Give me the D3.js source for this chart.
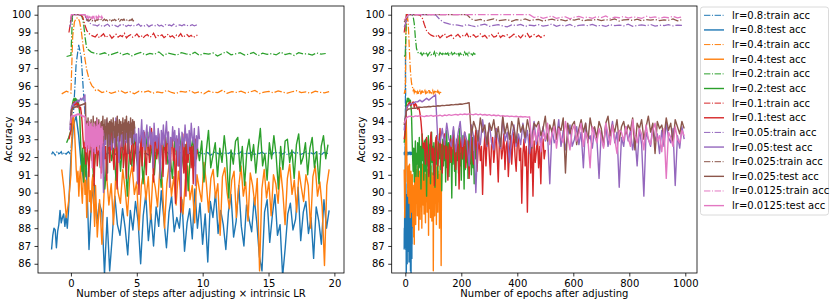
<!DOCTYPE html>
<html>
<head>
<meta charset="utf-8">
<script src="https://cdn.jsdelivr.net/npm/d3@7"></script>
<style>
body{margin:0;background:#fff;}
svg{display:block;font-family:"DejaVu Sans",sans-serif;}
</style>
</head>
<body>
<svg id="chart" width="830" height="303"></svg>
<script>
// learning rates, one train (dash-dot) and one test (solid) curve each
var lrs = ["0.8","0.4","0.2","0.1","0.05","0.025","0.0125"];
var colors = ["#1f77b4","#ff7f0e","#2ca02c","#d62728","#9467bd","#8c564b","#e377c2"];
// every series starts at epoch -4 (before adjusting), one value per step
var trainStep = [0.25, 2, 4, 8, 16, 16, 16];
var testStep = [0.25, 1, 2, 4, 8, 8, 8];
// epoch -> (steps x intrinsic LR) for the left panel, per lr
var epochKnots = [[-4,0,25],[-4,0,30,130],[-4,0,40,255],[-4,0,63,500],[-4,0,112,1000],[-4,0,231,1000],[-4,0,451,1000]];
var stepKnots = [[-1.47,0,19.6],[-0.7,0,2.0,19.6],[-0.33,0,1.2,19.6],[-0.15,0,0.95,9.6],[-0.08,0,1.1,9.8],[-0.04,0,1.12,4.86],[-0.02,0,1.1,2.45]];

var trainAcc08 = [92.15,92.28,92.2,92.1,92.25,92.32,92.18,92.22,92.3,92.12,92.2,92.27,92.16,92.24,92.3,92.2,
  92.3,94.5,97.2,98.3,97.6,95.3,93.4,92.5,92.3,
  92.18,92.25,92.1,92.3,92.22,92.15,92.28,92.2,92.12,92.26,
  92.19,92.31,92.14,92.22,92.27,92.1,92.24,92.2,92.33,92.16,
  92.21,92.12,92.29,92.18,92.25,92.2,92.08,92.23,92.3,92.17,
  92.22,92.26,92.13,92.2,92.28,92.15,92.24,92.19,92.32,92.11,
  92.22,92.27,92.16,92.2,92.25,92.09,92.21,92.3,92.18,92.23,
  92.14,92.26,92.2,92.29,92.12,92.22,92.18,92.31,92.15,92.24,
  92.2,92.27,92.1,92.23,92.19,92.28,92.16,92.25,92.21,92.13,
  92.3,92.2,92.24,92.17,92.27,92.11,92.22,92.29,92.18,92.25,
  92.14,92.21,92.3,92.19,92.23,92.16,92.28,92.2,92.12,92.26,
  92.22,92.18];
var testAcc08 = [86.8,87.6,88.0,87.9,86.9,87.8,88.2,89.0,88.3,88.6,88.8,88.1,88.7,88.0,89.0,90.5,
  92.0,93.8,94.3,93.2,91.5,90.6,91.4,86.8,89.6,90.5,
  88.3,89.4,88.9,85.4,88.6,85.6,87.5,89.8,88.2,87.6,
  89.1,88.0,86.5,89.0,87.9,89.5,88.4,86.0,88.7,89.9,
  87.3,88.8,87.0,89.2,88.1,90.1,88.5,86.9,88.9,89.8,
  87.8,88.6,88.0,89.6,86.7,88.3,89.1,87.4,90.2,88.0,
  89.4,87.1,88.8,86.1,89.5,88.6,90.0,87.7,89.0,88.2,
  86.8,88.9,89.9,87.5,88.4,90.4,88.1,87.0,89.3,88.5,
  87.8,89.7,88.3,86.4,85.6,88.9,89.6,87.2,88.7,89.9,
  87.6,88.2,85.3,86.9,88.8,89.4,87.9,88.5,90.3,87.3,
  88.9,89.5,87.7,88.6,86.3,89.2,88.4,87.1,89.6,88.0,
  89.0];

var trainAcc04 = [95.55,95.7,95.6,98.8,99.6,99.8,99.82,99.6,99.0,98.2,97.5,96.9,96.5,96.2,96.0,95.9,95.75,95.8,
  95.62,95.7,95.58,95.66,95.74,95.6,95.68,95.55,95.7,95.64,
  95.72,95.59,95.66,95.61,95.75,95.63,95.57,95.69,95.65,95.73,
  95.6,95.67,95.56,95.71,95.64,95.62,95.76,95.58,95.68,95.63,
  95.7,95.6,95.66,95.74,95.57,95.65,95.69,95.61,95.72,95.64,
  95.59,95.67,95.73,95.62,95.66,95.58,95.7,95.64,95.61,95.68];
var testAcc04 = [91.3,90.2,88.6,89.5,
  91.0,93.0,94.1,94.3,93.6,92.5,91.3,90.6,91.2,89.8,
  90.9,91.5,90.2,89.4,90.8,91.6,89.9,90.7,88.6,90.3,
  91.2,89.5,90.1,88.9,90.6,91.0,89.2,88.1,90.4,89.0,
  87.5,89.6,87.1,90.2,91.0,89.3,90.5,88.2,91.1,90.0,
  89.4,91.3,90.2,88.7,90.8,91.5,89.9,90.6,87.9,90.4,
  91.2,89.6,90.9,88.5,91.0,90.3,89.2,91.4,90.7,88.0,
  90.5,91.6,89.8,90.9,89.3,91.2,90.1,88.8,90.7,91.5,
  89.6,90.4,88.3,91.0,90.2,89.5,91.7,90.6,88.9,90.8,
  91.3,89.7,90.5,87.6,90.9,91.4,90.0,89.1,90.7,91.2,
  88.6,90.3,91.5,89.8,90.6,88.4,91.1,90.4,89.3,90.8,
  85.6,90.2,91.3,89.7,90.6,88.7,91.0,90.5,89.4,91.4,
  90.1,88.2,90.8,91.6,89.9,90.7,88.9,91.2,90.3,89.5,
  91.0,90.4,88.0,90.9,91.5,89.8,90.6,89.2,85.9,90.4,
  91.3];

var trainAcc02 = [97.65,97.72,100,100,100,100,100,99.98,99.9,99.5,98.7,98.1,97.9,97.82,
  97.78,97.86,97.72,97.81,97.9,97.75,97.83,97.69,97.8,97.88,
  97.74,97.82,97.77,97.91,97.7,97.84,97.79,97.73,97.87,97.8,
  97.76,97.89,97.71,97.83,97.78,97.85,97.68,97.81,97.92,97.75,
  97.8,97.86,97.73,97.79,97.88,97.7,97.84,97.77,97.82,97.74,
  97.9,97.76,97.83,97.71,97.87,97.79,97.8,97.73,97.85,97.78,
  97.82];
var testAcc02 = [92.8,93.1,93.5,94.6,95.0,95.2,95.3,95.1,95.3,95.2,95.0,95.2,94.9,94.5,93.2,92.0,91.2,92.5,90.6,91.8,92.9,90.9,92.2,
  91.6,92.8,90.9,92.3,93.1,91.4,92.6,90.2,92.0,93.3,
  91.8,92.5,90.7,92.9,91.2,93.0,92.1,89.8,92.4,91.5,
  93.2,92.0,91.1,92.7,90.5,92.3,93.4,91.7,92.6,91.0,
  92.8,92.2,90.3,92.5,93.1,91.6,92.0,90.8,92.9,91.9,
  93.3,92.4,91.3,92.7,90.1,92.2,93.0,91.5,92.6,91.8,
  92.9,90.6,92.3,93.5,91.4,92.1,92.8,90.9,92.5,91.7,
  93.2,92.0,89.7,92.4,91.6,92.9,93.1,91.2,92.6,90.4,
  92.3,93.0,91.8,92.7,91.1,92.5,93.6,91.5,92.2,90.7,
  92.8,91.9,93.2,92.1,90.2,92.6,91.3,92.9,93.0,91.7,
  92.4,90.8,92.7,93.3,91.6,92.0,92.8,91.0,92.5,93.1,
  91.4,92.3,90.5,92.6,93.2,91.9,92.7];

var trainAcc01 = [99.0,100,100,100,100,100,100,99.97,99.85,99.45,99.1,98.95,98.85,98.8,
  98.75,98.88,98.7,98.82,98.93,98.72,98.8,98.86,98.68,98.79,
  98.9,98.74,98.83,98.77,98.95,98.7,98.81,98.87,98.73,98.8,
  98.92,98.76,98.84,98.69,98.82,98.89,98.74,98.78,98.96,98.72,
  98.83,98.79,98.87,98.71,98.8,98.91,98.75,98.82,98.7,98.86,
  98.78,98.94,98.73,98.81,98.88,98.76,98.84,98.72,98.8,98.85];
var testAcc01 = [93.0,93.5,94.6,94.9,95.0,95.1,94.9,95.0,95.1,94.8,95.0,94.9,94.7,94.8,94.5,94.0,93.2,92.5,
  92.8,91.6,93.1,92.2,90.9,92.7,93.4,91.8,92.5,90.4,
  92.9,93.2,91.5,92.3,93.6,92.0,91.1,92.8,93.3,91.9,
  92.6,90.7,92.4,93.0,91.7,92.9,93.5,92.1,91.3,92.7,
  93.2,90.2,92.5,93.1,91.9,92.6,93.4,91.4,92.2,92.9,
  90.8,92.7,93.3,92.0,91.6,92.8,93.5,91.2,92.4,93.0,
  91.8,92.6,89.9,92.3,93.2,91.5,92.9,93.4,92.1,91.0,
  92.7,93.1,91.7,92.5,93.6,92.2,90.6,92.8,93.0,91.9,
  92.4,93.3,91.3,92.6,92.9,90.9,92.3,93.2,91.6,92.7,
  93.4,92.0,91.2,92.8,93.1,91.8,92.5,89.4,92.2,93.0,
  91.5,92.6,88.9,92.4,93.3,91.1,92.7,89.8,92.9,91.7,
  92.3,93.2,91.4,92.6,90.5,92.8,93.0,91.9,92.4];

var trainAcc005 = [99.3,100,100,100,100,100,100,99.99,99.72,99.55,99.48,99.43,
  99.42,99.36,99.45,99.38,99.33,99.41,99.47,99.35,99.4,99.44,
  99.37,99.32,99.43,99.39,99.46,99.34,99.41,99.38,99.44,99.36,
  99.4,99.48,99.35,99.42,99.37,99.45,99.33,99.4,99.43,99.38,
  99.46,99.36,99.41,99.34,99.44,99.39,99.42,99.37,99.47,99.35,
  99.4,99.43,99.38,99.45,99.36,99.41,99.39,99.44,99.37,99.42,
  99.4];
var testAcc005 = [93.5,94.8,94.9,95.0,95.0,95.1,95.1,95.2,95.1,95.2,95.3,95.2,95.3,95.4,95.5,93.0,
  92.8,93.6,92.7,93.9,93.0,92.6,93.7,92.3,93.3,94.0,
  92.6,93.4,92.9,91.5,93.8,93.1,90.0,93.5,92.7,94.1,
  93.2,92.6,93.9,92.8,92.4,93.6,93.0,92.5,94.2,92.9,
  93.4,91.7,93.1,93.8,92.6,93.3,92.7,93.9,92.8,93.5,
  92.2,93.2,94.0,92.7,93.4,92.8,93.7,92.9,93.3,90.5,
  93.6,92.8,93.1,94.1,92.6,93.5,92.4,93.2,93.8,92.6,
  93.0,93.7,92.7,93.4,91.4,93.9,92.9,93.2,92.5,93.6,
  93.1,90.8,93.5,92.7,93.8,92.6,93.3,94.0,92.8,93.4,
  90.3,93.1,92.6,93.7,92.9,93.5,92.4,93.2,91.5,93.6,
  92.7,89.8,93.4,93.0,92.6,93.8,92.9,93.3,92.2,93.5,
  92.6,93.9,93.1,92.8,93.6,90.4,93.2,92.5,93.7,93.0];

var trainAcc0025 = [99.6,100,100,100,100,100,100,100,100,100,100,100,100,100,100,99.75,
  99.68,99.74,99.65,99.71,99.77,99.66,99.7,99.73,99.63,99.72,
  99.69,99.76,99.67,99.71,99.74,99.64,99.7,99.75,99.68,99.72,
  99.66,99.73,99.7,99.77,99.65,99.71,99.69,99.74,99.67,99.72,
  99.7,99.76,99.64,99.71,99.73,99.68,99.75,99.66,99.72,99.7,
  99.74,99.67,99.71,99.69,99.76,99.65,99.72];
var testAcc0025 = [93.8,94.6,
  94.7,94.72,94.75,94.74,94.78,94.8,94.79,94.82,94.81,94.84,
  94.83,94.86,94.85,94.88,94.87,94.9,94.89,94.92,94.91,94.94,
  94.93,94.96,94.95,94.98,94.97,95.0,95.02,95.05,
  93.2,94.0,93.6,92.9,94.2,93.4,93.8,92.7,93.9,93.5,
  94.1,93.1,93.7,92.6,94.3,93.3,93.9,93.0,94.0,93.6,
  92.8,94.2,93.4,93.8,93.1,94.1,93.5,92.5,93.9,93.7,
  94.0,93.2,93.6,94.3,92.9,93.8,93.4,94.1,93.0,93.7,
  93.5,94.2,91.1,93.9,93.3,93.8,94.0,92.7,93.6,94.1,
  93.4,93.9,92.8,94.2,93.5,93.7,93.1,94.0,93.6,92.6,
  93.9,94.3,93.2,93.8,93.4,94.1,92.9,93.7,94.0,93.3,
  93.8,93.5,94.2,92.4,93.9,93.6,94.1,93.0,93.7,94.3,
  93.4,93.9,92.2,94.0,93.6,93.8,93.1,94.2,93.5,93.9,
  92.8,94.1,93.7,93.3,94.0,93.6];

var trainAcc00125 = [99.7,100,100,100,100,100,100,100,100,100,100,100,100,100,100,
  100,100,100,100,100,100,100,100,100,100,100,100,100,100,
  99.84,99.9,99.8,99.87,99.92,99.79,99.85,99.88,99.77,99.86,
  99.91,99.82,99.87,99.8,99.89,99.84,99.93,99.78,99.86,99.83,
  99.9,99.81,99.87,99.85,99.79,99.92,99.84,99.88,99.8,99.86,
  99.83,99.91,99.82,99.87];
var testAcc00125 = [93.9,
  94.2,94.28,94.3,94.26,94.31,94.29,94.33,94.3,94.27,94.32,
  94.3,94.34,94.29,94.33,94.31,94.35,94.3,94.36,94.33,94.38,
  94.34,94.37,94.4,94.36,94.41,94.38,94.42,94.39,94.43,94.4,
  94.38,94.42,94.37,94.41,94.36,94.39,94.35,94.38,94.33,94.36,
  94.32,94.35,94.3,94.33,94.29,94.31,94.28,94.3,94.27,94.29,
  94.26,94.28,94.25,94.27,94.24,94.26,
  92.6,93.5,92.9,93.8,92.3,93.4,93.0,93.9,92.7,93.3,
  93.7,92.5,93.6,93.1,92.8,94.0,93.2,92.4,93.5,93.8,
  92.9,93.3,93.9,92.6,93.4,93.0,91.4,93.7,93.2,92.8,
  93.6,93.1,92.5,93.9,93.3,92.7,93.8,93.0,92.2,93.5,
  93.4,92.9,93.7,93.1,92.6,94.1,93.2,92.8,93.6,93.3,
  92.4,93.8,93.0,92.7,93.5,93.9,92.9,93.2,92.3,93.6,
  90.8,93.4,93.1,92.6,93.7,93.0,92.8,93.5,93.2];

var trainSeries = [trainAcc08, trainAcc04, trainAcc02, trainAcc01, trainAcc005, trainAcc0025, trainAcc00125];
var testSeries = [testAcc08, testAcc04, testAcc02, testAcc01, testAcc005, testAcc0025, testAcc00125];

var yTicks = [86,87,88,89,90,91,92,93,94,95,96,97,98,99,100];
var leftTicks = [0,5,10,15,20];
var rightTicks = [0,200,400,600,800,1000];

var svg = d3.select("#chart");
var plotTop = 6, plotBottom = 273;

var y = d3.scaleLinear().domain([85.48, 100.49]).range([plotBottom, plotTop]);
var xLeft = d3.scaleLinear().domain([-2.5, 20.73]).range([38, 344]);
var xRight = d3.scaleLinear().domain([-48.6, 1041.8]).range([391.7, 697]);

// turns a series into points (epoch, value)
function toPoints(values, step){
	return values.map(function(v, j){ return {e: -4 + j*step, v: v}; });
}

function drawPanel(id, x, epochToX, ticks, xlabel){
	var x0 = x.range()[0], x1 = x.range()[1];
	var g = svg.append("g");
	g.append("clipPath").attr("id", id).append("rect")
		.attr("x", x0).attr("y", plotTop).attr("width", x1-x0).attr("height", plotBottom-plotTop);
	var plot = g.append("g").attr("clip-path", "url(#" + id + ")");

	for (var i = 0; i < lrs.length; i++){
		var toX = epochToX(i);
		var line = d3.line().x(function(d){ return toX(d.e); }).y(function(d){ return y(d.v); });
		plot.append("path").datum(toPoints(trainSeries[i], trainStep[i]))
			.attr("d", line).attr("fill", "none").attr("stroke", colors[i])
			.attr("stroke-width", 1.25).attr("stroke-dasharray", "7.7,1.9,1.2,1.9");
		plot.append("path").datum(toPoints(testSeries[i], testStep[i]))
			.attr("d", line).attr("fill", "none").attr("stroke", colors[i])
			.attr("stroke-width", 1.4).attr("stroke-linejoin", "round");
	}

	var yAxis = g.append("g").attr("transform", "translate(" + x0 + ",0)")
		.call(d3.axisLeft(y).tickValues(yTicks).tickSize(3.5).tickPadding(3.5).tickFormat(d3.format("d")));
	var xAxis = g.append("g").attr("transform", "translate(0," + plotBottom + ")")
		.call(d3.axisBottom(x).tickValues(ticks).tickSize(3.5).tickPadding(3.5).tickFormat(d3.format("d")));
	[yAxis, xAxis].forEach(function(a){
		a.select(".domain").remove();
		a.selectAll("line").attr("stroke", "#000").attr("stroke-width", 0.8);
		a.selectAll("text").attr("font-size", "10px").attr("fill", "#000").attr("font-family", "DejaVu Sans");
	});
	g.append("rect").attr("x", x0).attr("y", plotTop).attr("width", x1-x0).attr("height", plotBottom-plotTop)
		.attr("fill", "none").attr("stroke", "#000").attr("stroke-width", 0.8);

	g.append("text").attr("x", (x0+x1)/2).attr("y", 297).attr("text-anchor", "middle")
		.attr("font-size", "10px").text(xlabel);
	g.append("text").attr("transform", "translate(" + (x0-30) + "," + ((plotTop+plotBottom)/2) + ") rotate(-90)")
		.attr("text-anchor", "middle").attr("dominant-baseline", "central")
		.attr("font-size", "10px").text("Accuracy");
}

drawPanel("clipL", xLeft, function(i){
	var s = d3.scaleLinear().domain(epochKnots[i]).range(stepKnots[i]);
	return function(e){ return xLeft(s(e)); };
}, leftTicks, "Number of steps after adjusting \u00d7 intrinsic LR");

drawPanel("clipR", xRight, function(i){
	return function(e){ return xRight(e); };
}, rightTicks, "Number of epochs after adjusting");

// legend
var legend = svg.append("g");
legend.append("rect").attr("x", 700.5).attr("y", 7).attr("width", 128).attr("height", 208)
	.attr("rx", 2.5).attr("fill", "#fff").attr("fill-opacity", 0.8)
	.attr("stroke", "#d0d0d0").attr("stroke-width", 0.8);
var entries = [];
lrs.forEach(function(lr, i){
	entries.push({label: "lr=" + lr + ":train acc", color: colors[i], train: true});
	entries.push({label: "lr=" + lr + ":test acc", color: colors[i], train: false});
});
entries.forEach(function(d, k){
	var yy = 15.3 + k*14.64;
	legend.append("line").attr("x1", 704).attr("x2", 724).attr("y1", yy).attr("y2", yy)
		.attr("stroke", d.color).attr("stroke-width", d.train ? 1 : 1.4)
		.attr("stroke-dasharray", d.train ? "6.4,1.6,1,1.6" : null);
	legend.append("text").attr("x", 732).attr("y", yy).attr("dominant-baseline", "central")
		.attr("font-size", "10px").attr("fill", "#000").text(d.label);
});
</script>
</body>
</html>
